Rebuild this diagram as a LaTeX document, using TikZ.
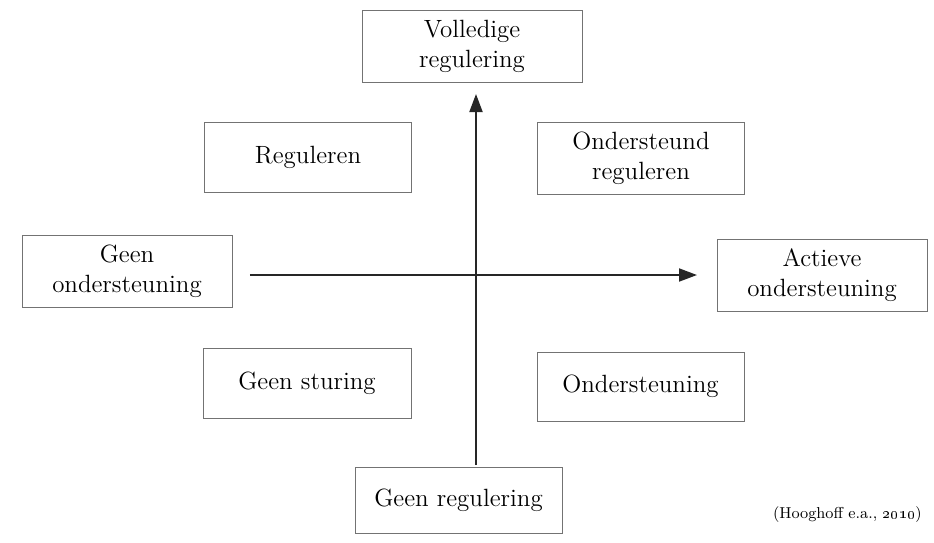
\documentclass[tikz,border=0pt]{standalone}
\usetikzlibrary{arrows.meta,positioning}
\tikzset{
    kader/.style = {
        draw = black!55,
        line width = 0.5pt,
        minimum width = 4.14cm,
        minimum height = 1.4cm,
        align = center,
        font = \fontsize{14.2}{17}\selectfont,
        },
    breed/.style = {
        minimum width = 4.2cm,
        minimum height = 1.44cm,
        },
    aspijl/.style = {
        draw = black!85,
        line width = 1.1pt,
        -{Triangle[length=0.36cm, width=0.26cm]},
        },
    bron/.style = {
        font = \fontsize{9}{11}\selectfont,
        },
}

\begin{document}
\begin{tikzpicture}
        \useasboundingbox (-9.52,-5.34) rectangle (9.16,5.5);

        \coordinate (o) at (0,0);
        \coordinate (onder) at (0,-3.8);
        \coordinate (boven) at (0,3.62);
        \coordinate (links) at (-4.52,0);
        \coordinate (rechts) at (4.42,0);

        \node[kader, breed, minimum width=4.4cm] (volledig) at (-0.08,4.58) {Volledige\\regulering};
        \node[kader] (reguleren) at (-3.36,2.36) {Reguleren};
        \node[kader, minimum height=1.44cm] (ondreg) at (3.30,2.34) {Ondersteund\\reguleren};
        \node[kader, breed] (geenond) at (-6.98,0.08) {Geen\\ondersteuning};
        \node[kader, breed] (actief) at (6.92,-0.01) {Actieve\\ondersteuning};
        \node[kader, minimum width=4.16cm] (sturing) at (-3.38,-2.16) {Geen sturing};
        \node[kader, minimum height=1.38cm] (ondst) at (3.29,-2.23) {Ondersteuning};
        \node[kader, minimum height=1.32cm] (geenreg) at (-0.35,-4.50) {Geen regulering};

        \node[bron, anchor=east, inner sep=0pt] (bron) at (8.92,-4.80) {(Hooghoff e.a., \oldstylenums{2010})};

        \draw[aspijl] (onder) -- (boven);
        \draw[aspijl] (links) -- (rechts);
\end{tikzpicture}
\end{document}
